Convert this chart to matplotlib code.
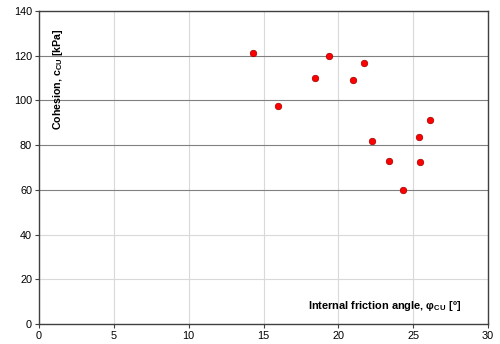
import matplotlib
matplotlib.use("Agg")
import matplotlib.pyplot as plt

plt.rcParams["font.family"] = ["Liberation Sans", "DejaVu Sans"]
plt.rcParams["mathtext.fontset"] = "custom"
plt.rcParams["mathtext.rm"] = "Liberation Sans"
plt.rcParams["mathtext.bf"] = "Liberation Sans:bold"

phi = [14.3, 19.35, 21.7, 18.45, 20.95, 15.95, 26.15, 25.4, 22.25, 23.4, 25.45, 24.35]
coh = [121.3, 120.0, 116.9, 110.2, 109.3, 97.5, 91.2, 83.5, 81.8, 73.0, 72.5, 59.8]

x_ticks = [0, 5, 10, 15, 20, 25, 30]
y_ticks = [0, 20, 40, 60, 80, 100, 120, 140]
dark_levels = [60, 80, 100, 120]

fig = plt.figure(figsize=(5.0, 3.44), dpi=100)
ax = fig.add_axes([0.078, 0.058, 0.898, 0.910])

ax.scatter(phi, coh, s=22, color="#ff0000", edgecolors="#a00000", linewidths=0.5, zorder=3)

ax.set_xlim(0, 30)
ax.set_ylim(0, 140)
ax.set_xticks(x_ticks)
ax.set_yticks(y_ticks)
ax.tick_params(labelsize=7.8, length=3, width=0.8, color="#404040", pad=2)
ax.grid(True, color="#d9d9d9", linewidth=0.8)
ax.set_axisbelow(True)
for val, line in zip(y_ticks, ax.get_ygridlines()):
    if val in dark_levels:
        line.set_color("#808080")

for sp in ax.spines.values():
    sp.set_color("#404040")
    sp.set_linewidth(1.0)

ax.text(0.042, 0.945, r"Cohesion, c$_{\mathbf{CU}}$ [kPa]", transform=ax.transAxes,
        rotation=90, ha="center", va="top", fontsize=7.7, fontweight="bold")
ax.text(0.94, 0.057, r"Internal friction angle, φ$_{\mathbf{CU}}$ [º]", transform=ax.transAxes,
        ha="right", va="center", fontsize=7.9, fontweight="bold")

fig.savefig("out.png", dpi=100)
